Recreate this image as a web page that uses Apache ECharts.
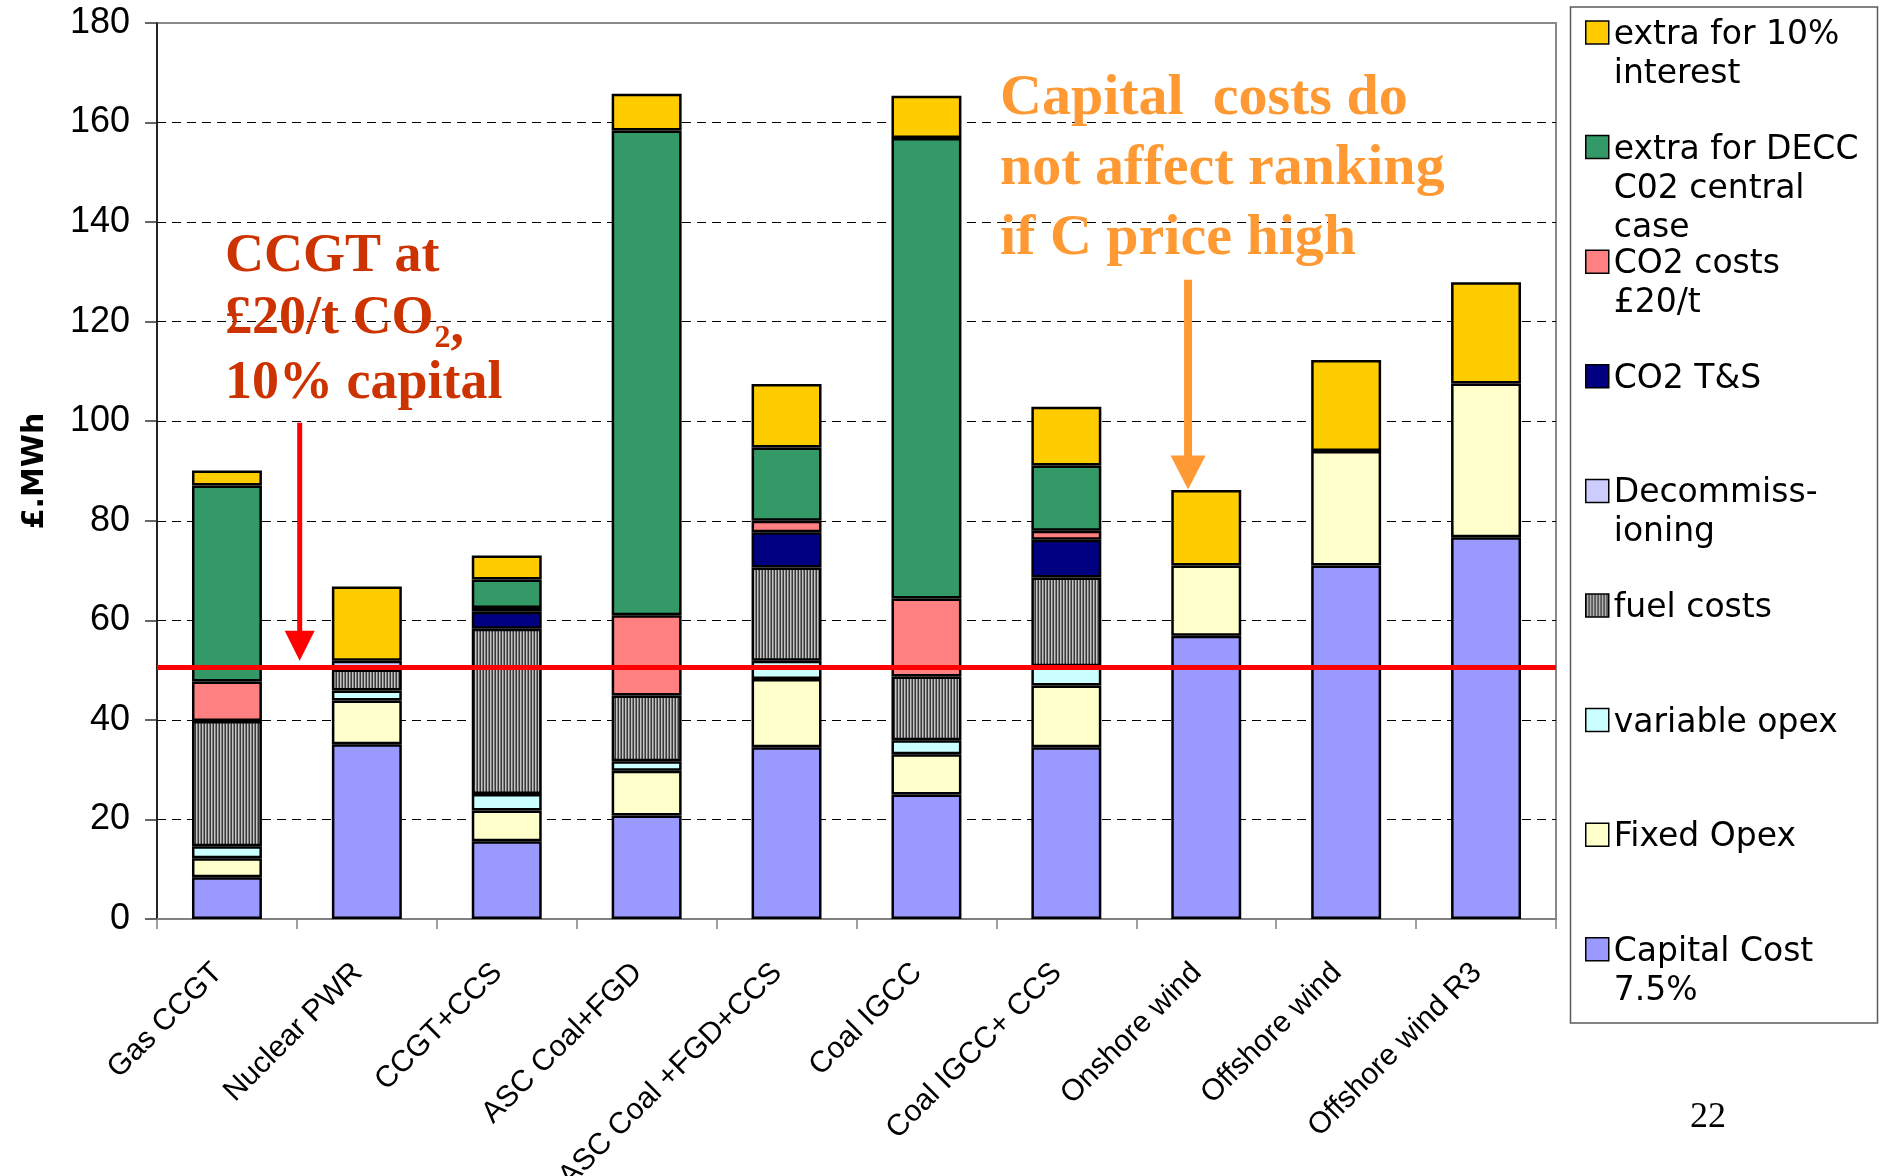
<!DOCTYPE html>
<html>
<head>
<meta charset="utf-8">
<script src="https://cdn.jsdelivr.net/npm/echarts@6/dist/echarts.min.js"></script>
<style>
  html, body { margin: 0; padding: 0; background: #fff; }
  #chart { width: 1886px; height: 1176px; }
</style>
</head>
<body>
<div id="chart"></div>
<script>
// Technologies along the x axis
const categories = ['Gas CCGT', 'Nuclear PWR', 'CCGT+CCS', 'ASC Coal+FGD', 'ASC Coal +FGD+CCS',
                    'Coal IGCC', 'Coal IGCC+ CCS', 'Onshore wind', 'Offshore wind', 'Offshore wind R3'];

// Cost components in £/MWh, bottom of the stack first ('-' = none)
const capitalCost  = [8.4, 35.1, 15.6, 20.8, 34.5, 25.0, 34.5, 56.9, 71.0, 76.7];
const fixedOpex    = [3.8, 8.8, 6.2, 9.0, 13.7, 8.1, 12.4, 14.1, 23.0, 30.9];
const variableOpex = [2.4, 2.0, 3.3, 1.9, 3.7, 2.8, 3.9, '-', '-', '-'];
const fuelCosts    = [25.2, 4.2, 33.2, 13.2, 18.7, 12.8, 17.8, '-', '-', '-'];
const decommission = ['-', 1.8, '-', '-', '-', '-', '-', '-', '-', '-'];
const co2TS        = ['-', '-', 3.4, '-', 7.1, '-', 7.6, '-', '-', '-'];
const co2Costs     = [7.9, '-', 0.8, 16.1, 2.3, 15.7, 1.8, '-', '-', '-'];
const deccExtra    = [39.4, '-', 5.7, 97.4, 14.7, 92.5, 13.1, '-', '-', '-'];
const interestExtra = [3.0, 14.9, 4.8, 7.4, 12.8, 8.5, 11.8, 15.2, 18.3, 20.3];

// Reference level: CCGT at £20/t CO2 with 10% capital
const ccgtLevel = 50.6;

// Annotation arrows: [category position, top value, tip value]
const redArrow = [0.52, 99.7, 51.9];
const orangeArrow = [6.87, 128.4, 86.3];

// Vertical stripe fill for the fuel costs
function fuelPattern() {
    const c = document.createElement('canvas');
    c.width = 3; c.height = 3;
    const g = c.getContext('2d');
    g.fillStyle = '#7c7c7c'; g.fillRect(0, 0, 3, 3);
    g.fillStyle = '#3a3a3a'; g.fillRect(0, 0, 1, 3);
    g.fillStyle = '#c4c4c4'; g.fillRect(1, 0, 1, 3);
    return c;
}

// Series in stacking order, with the legend wording
const seriesDefs = [
    { name: 'Capital Cost 7.5%', data: capitalCost, color: '#9999FF', lines: ['Capital Cost', '7.5%'] },
    { name: 'Fixed Opex', data: fixedOpex, color: '#FFFFCC', lines: ['Fixed Opex'] },
    { name: 'variable opex', data: variableOpex, color: '#CCFFFF', lines: ['variable opex'] },
    { name: 'fuel costs', data: fuelCosts, color: { image: fuelPattern(), repeat: 'repeat' }, lines: ['fuel costs'] },
    { name: 'Decommissioning', data: decommission, color: '#CCCCFF', lines: ['Decommiss-', 'ioning'] },
    { name: 'CO2 T&S', data: co2TS, color: '#000080', lines: ['CO2 T&S'] },
    { name: 'CO2 costs £20/t', data: co2Costs, color: '#FF8080', lines: ['CO2 costs', '£20/t'] },
    { name: 'extra for DECC C02 central case', data: deccExtra, color: '#339966', lines: ['extra for DECC', 'C02 central', 'case'] },
    { name: 'extra for 10% interest', data: interestExtra, color: '#FFCC00', lines: ['extra for 10%', 'interest'] }
];

const chart = echarts.init(document.getElementById('chart'));

// One legend block per entry so each one sits at its own slot in the box;
// the first text line is kept level with the swatch.
const LH = 39;
const NUDGE = 6;
const legendOrder = seriesDefs.slice().reverse();
const legends = legendOrder.map((s, i) => {
    const n = s.lines.length;
    const padTop = (n - 1) * LH + NUDGE;
    const above = (padTop + n * LH) / 2 - 11.5;
    return {
        data: [s.name],
        left: 1585,
        top: 21 + i * 114.6 - above,
        orient: 'vertical',
        padding: 0,
        icon: 'rect',
        itemWidth: 23,
        itemHeight: 23,
        selectedMode: false,
        formatter: () => s.lines.map(l => '{t|' + l + '}').join('\n'),
        itemStyle: { borderColor: '#000', borderWidth: 1.5 },
        textStyle: {
            padding: [padTop, 0, 0, 0],
            backgroundColor: 'rgba(0,0,0,0)',
            rich: { t: { fontFamily: 'DejaVu Sans', fontSize: 33, lineHeight: LH, color: '#000' } }
        }
    };
});

const series = seriesDefs.map(s => ({
    name: s.name,
    type: 'bar',
    stack: 'cost',
    barWidth: '50%',
    data: s.data,
    itemStyle: { color: s.color, borderColor: '#000', borderWidth: 2.5 },
    emphasis: { disabled: true }
}));

// Red reference line across the plot
series[series.length - 1].markLine = {
    silent: true,
    symbol: ['none', 'none'],
    label: { show: false },
    lineStyle: { color: '#FF0000', width: 5, type: 'solid' },
    data: [{ yAxis: ccgtLevel }],
    z: 20
};

const option = {
    animation: false,
    backgroundColor: '#fff',
    grid: {
        left: 157, right: 330, top: 23, bottom: 257,
        outerBoundsMode: 'none', containLabel: false,
        show: true, borderColor: '#8a8a8a', borderWidth: 2
    },
    legend: legends,
    xAxis: {
        type: 'category',
        data: categories,
        axisLine: { lineStyle: { color: '#808080', width: 2 } },
        axisTick: { show: true, length: 10, alignWithLabel: false, lineStyle: { color: '#808080', width: 1.5 } },
        axisLabel: {
            interval: 0, rotate: 45, margin: 40, padding: [0, 13, 0, 0],
            fontFamily: 'Liberation Sans', fontSize: 30, color: '#000'
        },
        splitLine: { show: false }
    },
    yAxis: {
        type: 'value',
        min: 0, max: 180, interval: 20,
        name: '£.MWh',
        nameLocation: 'middle',
        nameRotate: 90,
        nameGap: 107,
        nameTextStyle: { fontFamily: 'DejaVu Sans', fontWeight: 'bold', fontSize: 30, color: '#000' },
        axisLine: { show: true, lineStyle: { color: '#000', width: 1.5 } },
        axisTick: { show: true, length: 12, lineStyle: { color: '#333', width: 1.5 } },
        axisLabel: { margin: 27, fontFamily: 'Liberation Sans', fontSize: 36, color: '#000' },
        splitLine: {
            show: true, showMinLine: false, showMaxLine: false,
            lineStyle: { color: '#000', type: [9, 6], width: 1.2 }
        }
    },
    series: series
};

chart.setOption(option);

// Annotations placed from the chart's own scales
function catX(pos) {
    const i = Math.floor(pos), f = pos - i;
    const a = chart.convertToPixel({ gridIndex: 0 }, [i, 0])[0];
    const b = chart.convertToPixel({ gridIndex: 0 }, [i + 1, 0])[0];
    return a + (b - a) * f;
}
function valY(v) {
    return chart.convertToPixel({ gridIndex: 0 }, [0, v])[1];
}
function arrow(def, color, lineW, headW, headL) {
    const x = catX(def[0]);
    const y1 = valY(def[1]);
    const tip = valY(def[2]);
    return [
        { type: 'line', z: 30, shape: { x1: x, y1: y1, x2: x, y2: tip - headL + 2 }, style: { stroke: color, lineWidth: lineW } },
        { type: 'polygon', z: 30, shape: { points: [[x - headW / 2, tip - headL], [x + headW / 2, tip - headL], [x, tip]] }, style: { fill: color } }
    ];
}

const serifBold = 'bold 54px "Liberation Serif"';
const subFont = 'bold 32px "Liberation Serif"';
const orangeFont = 'bold 58px "Liberation Serif"';
const red = '#CC3300';
const orange = '#FF9933';

// widths for placing the subscript after "CO"
const measure = document.createElement('canvas').getContext('2d');
function textW(t, f) { measure.font = f; return measure.measureText(t).width; }
const line2 = '£20/t CO';
const subX = 225 + textW(line2, serifBold) + 1;
const commaX = subX + textW('2', subFont);

function label(text, x, y, font, fill, align) {
    return { type: 'text', z: 30, x: x, y: y, style: { text: text, font: font, fill: fill, align: align || 'left', verticalAlign: 'middle' } };
}

const graphics = [
    { type: 'rect', z: 1, shape: { x: 1570.5, y: 7, width: 307, height: 1016 }, style: { fill: 'none', stroke: '#5a5a5a', lineWidth: 1.5 } },
    label('CCGT at', 225, 257, serifBold, red),
    label(line2, 225, 319, serifBold, red),
    label('2', subX, 339, subFont, red),
    label(',', commaX, 328, serifBold, red),
    label('10% capital', 225, 384, serifBold, red),
    label('Capital  costs do', 1000, 99, orangeFont, orange),
    label('not affect ranking', 1000, 169, orangeFont, orange),
    label('if C price high', 1000, 239, orangeFont, orange),
    label('22', 1708, 1118, '36px "Liberation Serif"', '#000', 'center')
].concat(arrow(redArrow, '#FF0000', 5, 30, 30), arrow(orangeArrow, orange, 8, 35, 34));

chart.setOption({ graphic: graphics });
</script>
</body>
</html>
